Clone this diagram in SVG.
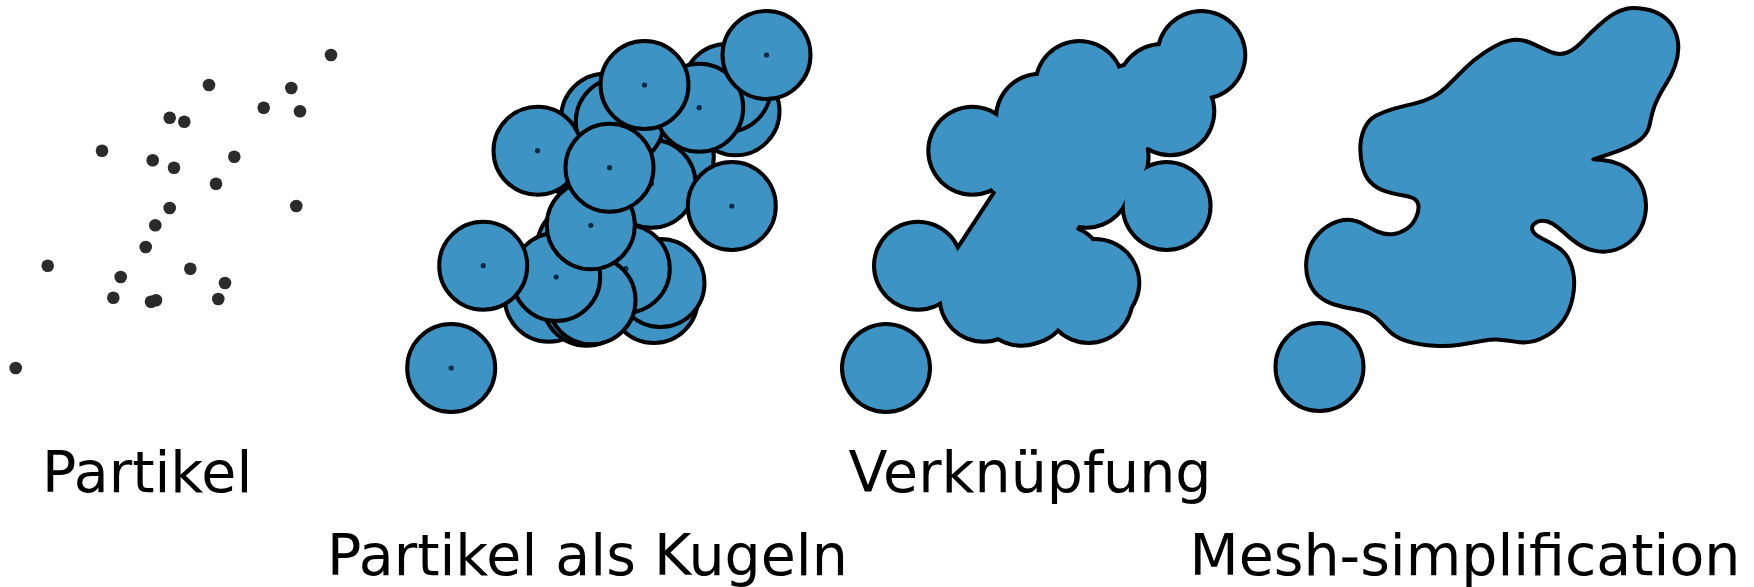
<svg xmlns="http://www.w3.org/2000/svg" xmlns:xlink="http://www.w3.org/1999/xlink" width="1754" height="587" viewBox="0 0 1754 587">
  <style>
    .pt { fill: #2b2b2b; }
    .sph { fill: #3e93c5; stroke: #000; stroke-width: 4; }
    .surf { fill: #3e93c5; stroke: #000; stroke-width: 12; stroke-linejoin: round; }
    .ctr { fill: #0c2a45; }
    .rim { fill: #000; }
    .core { fill: #3e93c5; }
    .lbl { font-family: "DejaVu Sans", "Liberation Sans", sans-serif; font-size: 57px; fill: #000; }
  </style>
  <defs>
    <!-- one particle drawn as a sphere with its centre marked -->
    <g id="ball">
      <circle class="sph" r="44"/>
      <circle class="ctr" r="2.6"/>
    </g>
  </defs>
  <rect width="1754" height="587" fill="#fff"/>

  <!-- stage 1: raw particle positions -->
  <g id="particles">
    <circle class="pt" cx="331" cy="55" r="6.3"/>
    <circle class="pt" cx="209" cy="85" r="6.3"/>
    <circle class="pt" cx="291.3" cy="88" r="6.3"/>
    <circle class="pt" cx="263.7" cy="107.7" r="6.3"/>
    <circle class="pt" cx="300" cy="111.3" r="6.3"/>
    <circle class="pt" cx="169.7" cy="117.7" r="6.3"/>
    <circle class="pt" cx="184.3" cy="121.7" r="6.3"/>
    <circle class="pt" cx="102" cy="150.7" r="6.3"/>
    <circle class="pt" cx="152.7" cy="160.3" r="6.3"/>
    <circle class="pt" cx="174" cy="167.7" r="6.3"/>
    <circle class="pt" cx="234.3" cy="156.7" r="6.3"/>
    <circle class="pt" cx="216" cy="183.7" r="6.3"/>
    <circle class="pt" cx="296.3" cy="206" r="6.3"/>
    <circle class="pt" cx="169.7" cy="208" r="6.3"/>
    <circle class="pt" cx="155.3" cy="225.3" r="6.3"/>
    <circle class="pt" cx="145.7" cy="247" r="6.3"/>
    <circle class="pt" cx="47.7" cy="265.7" r="6.3"/>
    <circle class="pt" cx="120.7" cy="277" r="6.3"/>
    <circle class="pt" cx="190.3" cy="268.7" r="6.3"/>
    <circle class="pt" cx="225" cy="283" r="6.3"/>
    <circle class="pt" cx="113.3" cy="297.7" r="6.3"/>
    <circle class="pt" cx="151" cy="301.7" r="6.3"/>
    <circle class="pt" cx="156" cy="300.3" r="6.3"/>
    <circle class="pt" cx="218.3" cy="299" r="6.3"/>
    <circle class="pt" cx="15.7" cy="368" r="6.3"/>
  </g>

  <!-- stage 2: every particle as a sphere, painted back to front -->
  <g id="spheres" transform="translate(435.5,0)">
    <use xlink:href="#ball" x="218.3" y="299"/>
    <use xlink:href="#ball" x="113.3" y="297.7"/>
    <use xlink:href="#ball" x="225" y="283"/>
    <use xlink:href="#ball" x="145.7" y="247"/>
    <use xlink:href="#ball" x="169.7" y="208"/>
    <use xlink:href="#ball" x="234.3" y="156.7"/>
    <use xlink:href="#ball" x="216" y="183.7"/>
    <use xlink:href="#ball" x="152.7" y="160.3"/>
    <use xlink:href="#ball" x="169.7" y="117.7"/>
    <use xlink:href="#ball" x="184.3" y="121.7"/>
    <use xlink:href="#ball" x="300" y="111.3"/>
    <use xlink:href="#ball" x="291.3" y="88"/>
    <use xlink:href="#ball" x="190.3" y="268.7"/>
    <use xlink:href="#ball" x="151" y="301.7"/>
    <use xlink:href="#ball" x="156" y="300.3"/>
    <use xlink:href="#ball" x="120.7" y="277"/>
    <use xlink:href="#ball" x="296.3" y="206"/>
    <use xlink:href="#ball" x="263.7" y="107.7"/>
    <use xlink:href="#ball" x="209" y="85"/>
    <use xlink:href="#ball" x="331" y="55"/>
    <use xlink:href="#ball" x="47.7" y="265.7"/>
    <use xlink:href="#ball" x="155.3" y="225.3"/>
    <use xlink:href="#ball" x="102" y="150.7"/>
    <use xlink:href="#ball" x="174" y="167.7"/>
    <use xlink:href="#ball" x="15.7" y="368"/>
  </g>

  <!-- stage 3: union of the spheres (outer rim layer, then fill layer) -->
  <g id="union" transform="translate(870.3,0)">
    <g id="union-rim">
      <circle class="rim" cx="331" cy="55" r="46"/>
      <circle class="rim" cx="209" cy="85" r="46"/>
      <circle class="rim" cx="291.3" cy="88" r="46"/>
      <circle class="rim" cx="263.7" cy="107.7" r="46"/>
      <circle class="rim" cx="300" cy="111.3" r="46"/>
      <circle class="rim" cx="169.7" cy="117.7" r="46"/>
      <circle class="rim" cx="184.3" cy="121.7" r="46"/>
      <circle class="rim" cx="102" cy="150.7" r="46"/>
      <circle class="rim" cx="152.7" cy="160.3" r="46"/>
      <circle class="rim" cx="174" cy="167.7" r="46"/>
      <circle class="rim" cx="234.3" cy="156.7" r="46"/>
      <circle class="rim" cx="216" cy="183.7" r="46"/>
      <circle class="rim" cx="296.3" cy="206" r="46"/>
      <circle class="rim" cx="169.7" cy="208" r="46"/>
      <circle class="rim" cx="155.3" cy="225.3" r="46"/>
      <circle class="rim" cx="145.7" cy="247" r="46"/>
      <circle class="rim" cx="47.7" cy="265.7" r="46"/>
      <circle class="rim" cx="120.7" cy="277" r="46"/>
      <circle class="rim" cx="190.3" cy="268.7" r="46"/>
      <circle class="rim" cx="225" cy="283" r="46"/>
      <circle class="rim" cx="113.3" cy="297.7" r="46"/>
      <circle class="rim" cx="151" cy="301.7" r="46"/>
      <circle class="rim" cx="156" cy="300.3" r="46"/>
      <circle class="rim" cx="218.3" cy="299" r="46"/>
      <circle class="rim" cx="15.7" cy="368" r="46"/>
      <polygon class="rim" points="83,250.6 124.6,187.2 149.7,225 119.7,260"/>
    </g>
    <g id="union-fill">
      <circle class="core" cx="331" cy="55" r="42"/>
      <circle class="core" cx="209" cy="85" r="42"/>
      <circle class="core" cx="291.3" cy="88" r="42"/>
      <circle class="core" cx="263.7" cy="107.7" r="42"/>
      <circle class="core" cx="300" cy="111.3" r="42"/>
      <circle class="core" cx="169.7" cy="117.7" r="42"/>
      <circle class="core" cx="184.3" cy="121.7" r="42"/>
      <circle class="core" cx="102" cy="150.7" r="42"/>
      <circle class="core" cx="152.7" cy="160.3" r="42"/>
      <circle class="core" cx="174" cy="167.7" r="42"/>
      <circle class="core" cx="234.3" cy="156.7" r="42"/>
      <circle class="core" cx="216" cy="183.7" r="42"/>
      <circle class="core" cx="296.3" cy="206" r="42"/>
      <circle class="core" cx="169.7" cy="208" r="42"/>
      <circle class="core" cx="155.3" cy="225.3" r="42"/>
      <circle class="core" cx="145.7" cy="247" r="42"/>
      <circle class="core" cx="47.7" cy="265.7" r="42"/>
      <circle class="core" cx="120.7" cy="277" r="42"/>
      <circle class="core" cx="190.3" cy="268.7" r="42"/>
      <circle class="core" cx="225" cy="283" r="42"/>
      <circle class="core" cx="113.3" cy="297.7" r="42"/>
      <circle class="core" cx="151" cy="301.7" r="42"/>
      <circle class="core" cx="156" cy="300.3" r="42"/>
      <circle class="core" cx="218.3" cy="299" r="42"/>
      <circle class="core" cx="15.7" cy="368" r="42"/>
      <polygon class="core" points="85.3,254.5 129.1,187.7 149.7,225 119.7,260"/>
    </g>
  </g>

  <!-- stage 4: simplified surface mesh (outline traced at 3x, scaled down) -->
  <g id="mesh">
    <path class="surf" transform="translate(1260,0) scale(0.33333)"
      d="M1100,26 Q1120,22 1152.5,27 Q1185,32 1208.5,48.5 Q1232,65 1243.5,90 Q1255,115 1255,142.5 Q1255,170 1245,197.5 Q1235,225 1220,248.5 Q1205,272 1193.5,295 Q1182,318 1177,338 Q1172,358 1169,374 Q1166,390 1155.5,404 Q1145,418 1125,430 Q1105,442 1077.5,452 Q1050,462 1025,470 L1000,478 L1027.5,480 Q1055,482 1080,493.5 Q1105,505 1123.5,525 Q1142,545 1151,572.5 Q1160,600 1157.5,630 Q1155,660 1141.5,686 Q1128,712 1105,729 Q1082,746 1056,752 Q1030,758 1002.5,752 Q975,746 952.5,730.5 Q930,715 911.5,697.5 Q893,680 878,671 Q863,662 848,662 Q833,662 823,671 Q813,680 817.5,691.5 Q822,703 843.5,714 Q865,725 888.5,738.5 Q912,752 925,776 Q938,800 941.5,830 Q945,860 937.5,895 Q930,930 912.5,957.5 Q895,985 867.5,1002.5 Q840,1020 815,1025 Q790,1030 765,1025 Q740,1020 717.5,1019 Q695,1018 665,1023 Q635,1028 600,1034 Q565,1040 522.5,1037.5 Q480,1035 446,1025 Q412,1015 395,1000 Q378,985 364,968.5 Q350,952 331,942 Q312,932 281,927 Q250,922 222.5,913.5 Q195,905 175,887.5 Q155,870 145,840 Q135,810 140,775 Q145,740 165,714 Q185,688 212.5,673 Q240,658 265,659 Q290,660 310,672.5 Q330,685 352.5,695 Q375,705 397.5,702.5 Q420,700 439,687.5 Q458,675 468,652.5 Q478,630 475,615 Q472,600 458.5,594 Q445,588 422.5,585 Q400,582 375,573.5 Q350,565 332.5,547.5 Q315,530 307.5,500 Q300,470 301,440 Q302,410 313.5,385 Q325,360 347.5,347.5 Q370,335 400,326.5 Q430,318 460,311.5 Q490,305 515,292.5 Q540,280 565,255 Q590,230 615,205 Q640,180 670,160 Q700,140 725,129 Q750,118 772.5,119 Q795,120 817.5,131 Q840,142 862.5,152 Q885,162 900,162 Q915,162 932.5,152 Q950,142 970,121 Q990,100 1015,77.5 Q1040,55 1060,42.5 Q1080,30 1100,26 Z"/>
    <circle class="sph" cx="1319.5" cy="367" r="44"/>
  </g>

  <!-- captions -->
  <g id="labels">
    <text class="lbl" x="42" y="491.5">Partikel</text>
    <text class="lbl" x="327" y="575">Partikel als Kugeln</text>
    <text class="lbl" x="848.5" y="491.5">Verknüpfung</text>
    <text class="lbl" x="1189.5" y="575">Mesh-simplification</text>
  </g>
</svg>
